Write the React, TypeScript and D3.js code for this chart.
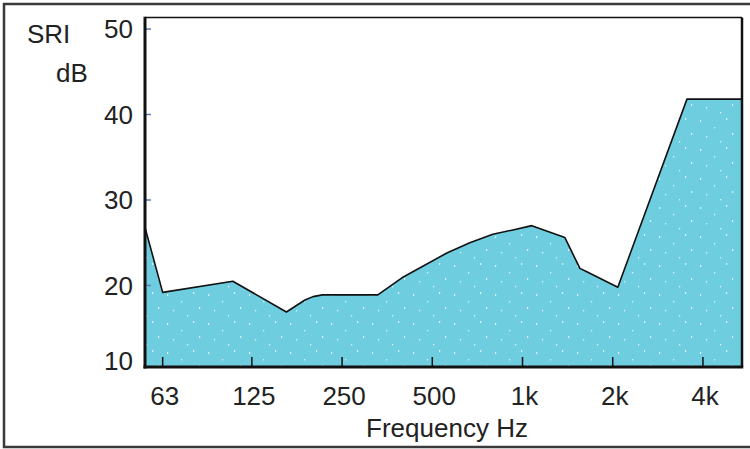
import * as d3 from 'd3';

// SRI curve (frequency in Hz, level in dB)
const FREQS = [55, 63, 108, 163, 175, 188, 200, 215, 329, 396, 559, 667, 796, 929, 1074, 1385, 1554, 1639, 2080, 3538, 5400];
const SRI = [26.8, 19.2, 20.5, 16.9, 17.6, 18.3, 18.7, 18.9, 18.9, 20.9, 23.8, 25.0, 26.0, 26.5, 27.0, 25.6, 22.0, 21.6, 19.8, 41.8, 41.8];

const X_TICKS = [63, 125, 250, 500, 1000, 2000, 4000];
const X_LABELS = ['63', '125', '250', '500', '1k', '2k', '4k'];
const Y_TICKS = [10, 20, 30, 40, 50];

const W = 750;
const H = 449;
const plot = { left: 145, right: 742, top: 17.5, bottom: 367 };
const FONT = '"Liberation Sans", Arial, sans-serif';
const TEXT = '#222';

export default function App() {
    const data = FREQS.map((f, i) => ({ f, v: SRI[i] }));

    const x = d3.scaleLog().base(2).domain([55, 5400]).range([plot.left, plot.right]);
    const y = d3.scaleLinear().domain([10, 50]).range([371, 29]);

    const area = d3.area<{ f: number; v: number }>()
        .x(d => x(d.f))
        .y0(plot.bottom)
        .y1(d => y(d.v));

    const line = d3.line<{ f: number; v: number }>()
        .x(d => x(d.f))
        .y(d => y(d.v));

    return (
        <div style={{ position: 'absolute', left: 0, top: 0 }}>
            <svg width={W} height={H} viewBox={`0 0 ${W} ${H}`} style={{ display: 'block', background: '#fff' }}>
                {/* outer frame */}
                <rect x={4} y={4} width={W + 10} height={443} fill="none" stroke="#3a3a3a" strokeWidth={2.5} />

                <defs>
                    <clipPath id="plot-clip">
                        <rect x={plot.left} y={plot.top} width={plot.right - plot.left} height={plot.bottom - plot.top} />
                    </clipPath>
                    {/* light speckle texture in the fill */}
                    <pattern id="speckle" width={41} height={29} patternUnits="userSpaceOnUse">
                        <rect width={41} height={29} fill="#6fcde0" />
                        <g fill="#fff" opacity={0.75}>
                            <rect x={3} y={4} width={1.2} height={2} />
                            <rect x={17} y={11} width={1.2} height={1.4} />
                            <rect x={29} y={2} width={1.2} height={2} />
                            <rect x={9} y={20} width={1.2} height={1.4} />
                            <rect x={35} y={17} width={1.2} height={2} />
                            <rect x={23} y={25} width={1.2} height={1.4} />
                        </g>
                    </pattern>
                </defs>

                <g clipPath="url(#plot-clip)">
                    <path d={area(data) || ''} fill="url(#speckle)" />
                    <path d={line(data) || ''} fill="none" stroke="#111" strokeWidth={1.6} strokeLinejoin="round" />
                </g>

                {/* y ticks */}
                {Y_TICKS.filter(t => y(t) < plot.bottom - 2).map(t => (
                    <line key={`yt${t}`} x1={plot.left} x2={plot.left + 6} y1={y(t)} y2={y(t)} stroke="#5a7db0" strokeWidth={1.5} />
                ))}
                {Y_TICKS.map(t => (
                    <text key={`yl${t}`} x={133} y={Math.min(y(t), plot.bottom - 6)} dy="0.35em" textAnchor="end"
                        fontFamily={FONT} fontSize={26} fill={TEXT}>{t}</text>
                ))}

                {/* x ticks */}
                {X_TICKS.map(t => (
                    <line key={`xt${t}`} x1={x(t)} x2={x(t)} y1={plot.bottom} y2={plot.bottom - 10} stroke="#111" strokeWidth={1.5} />
                ))}
                {X_TICKS.map((t, i) => (
                    <text key={`xl${t}`} x={x(t) + 2} y={405} textAnchor="middle"
                        fontFamily={FONT} fontSize={26} fill={TEXT}>{X_LABELS[i]}</text>
                ))}

                {/* plot frame */}
                <line x1={plot.left} x2={plot.right} y1={plot.top} y2={plot.top} stroke="#111" strokeWidth={1.5} />
                <line x1={plot.right} x2={plot.right} y1={plot.top} y2={plot.bottom} stroke="#111" strokeWidth={2.5} />
                <line x1={plot.left} x2={plot.left} y1={plot.top - 0.75} y2={plot.bottom + 1.5} stroke="#111" strokeWidth={3} />
                <line x1={plot.left - 1.5} x2={plot.right + 1.25} y1={plot.bottom} y2={plot.bottom} stroke="#111" strokeWidth={3} />

                {/* axis titles */}
                <text x={27} y={43} fontFamily={FONT} fontSize={26} fill={TEXT}>SRI</text>
                <text x={56} y={82} fontFamily={FONT} fontSize={26} fill={TEXT}>dB</text>
                <text x={447} y={437} textAnchor="middle" fontFamily={FONT} fontSize={26} fill={TEXT}>Frequency Hz</text>
            </svg>
        </div>
    );
}
